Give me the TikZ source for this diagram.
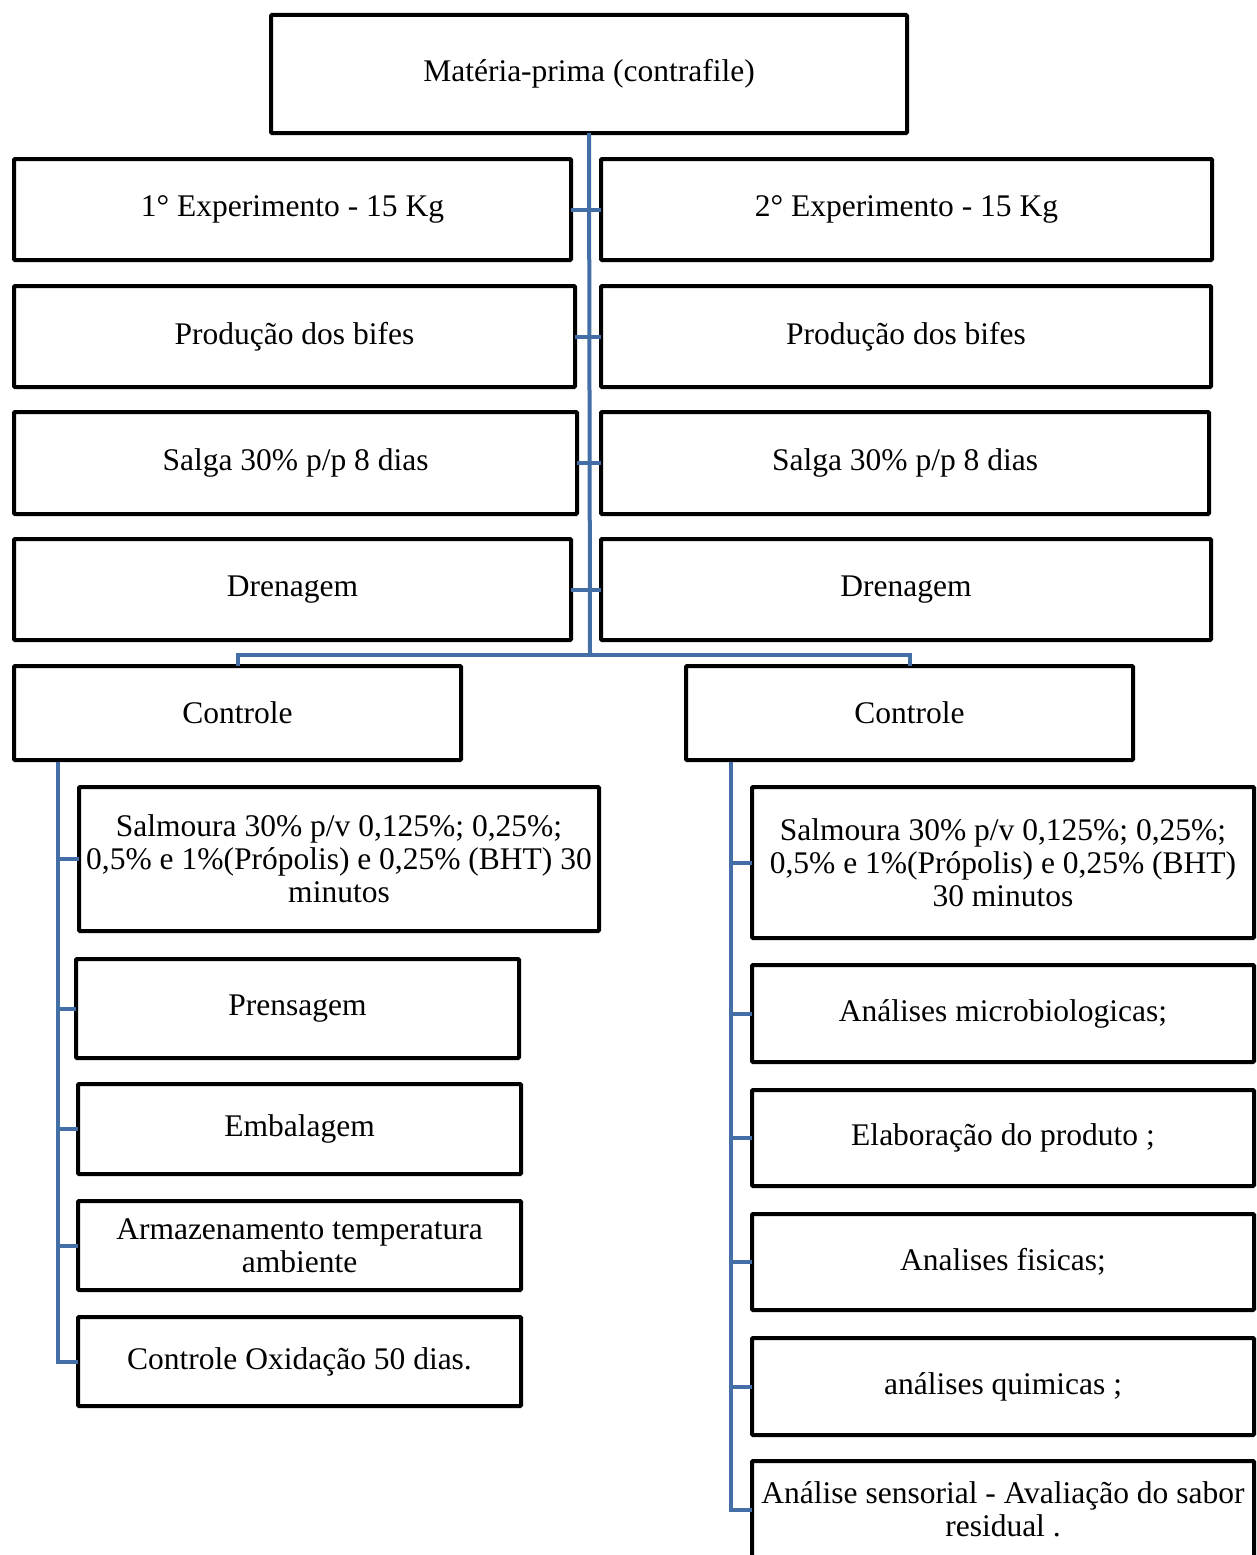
\documentclass[tikz,border=0pt]{standalone}
\usepackage{fontspec}
\setmainfont{Liberation Serif}
\definecolor{linkblue}{RGB}{68,110,166}
\tikzset{
  boxnode/.style={draw=black, line width=4pt, fill=white, inner sep=0pt, outer sep=0pt,
    align=center, font=\fontsize{31.5}{33}\selectfont, rounded corners=1pt},
  link/.style={draw=linkblue, line width=4pt}
}
% \mybox{name}{x1}{y1}{x2}{y2}{text}
\newcommand{\mybox}[6]{%
  \node[boxnode, minimum width={(#4-#2-4)*1pt}, minimum height={(#5-#3-4)*1pt}]
    (#1) at ({(#2+#4)/2},{(#3+#5)/2}) {#6};}
\begin{document}
\begin{tikzpicture}[x=1pt,y=-1pt]
\useasboundingbox[fill=white] (0,0) rectangle (1256,1555);
\coordinate (hub) at (590,655);
\coordinate (lt) at (58,762);
\coordinate (rt) at (731,762);
% boxes
\mybox{top}{269}{13}{909}{135}{Matéria-prima (contrafile)}
\mybox{r1L}{12}{157}{573}{262}{1° Experimento - 15 Kg}
\mybox{r1R}{599}{157}{1214}{262}{2° Experimento - 15 Kg}
\mybox{r2L}{12}{284}{577}{389}{Produção dos bifes}
\mybox{r2R}{599}{284}{1213}{389}{Produção dos bifes}
\mybox{r3L}{12}{410}{579}{516}{Salga 30\% p/p 8 dias}
\mybox{r3R}{599}{410}{1211}{516}{Salga 30\% p/p 8 dias}
\mybox{r4L}{12}{537}{573}{642}{Drenagem}
\mybox{r4R}{599}{537}{1213}{642}{Drenagem}
\mybox{ctrlL}{12}{664}{463}{762}{Controle}
\mybox{ctrlR}{684}{664}{1135}{762}{Controle}
\mybox{lc1}{77}{785}{601}{933}{Salmoura 30\% p/v 0,125\%; 0,25\%;\\0,5\% e 1\%(Própolis) e 0,25\% (BHT) 30\\minutos}
\mybox{lc2}{74}{957}{521}{1060}{Prensagem}
\mybox{lc3}{76}{1082}{523}{1176}{Embalagem}
\mybox{lc4}{76}{1199}{523}{1292}{Armazenamento temperatura\\ambiente}
\mybox{lc5}{76}{1315}{523}{1408}{Controle Oxidação 50 dias.}
\mybox{rc1}{750}{785}{1256}{940}{Salmoura 30\% p/v 0,125\%; 0,25\%;\\0,5\% e 1\%(Própolis) e 0,25\% (BHT)\\30 minutos}
\mybox{rc2}{750}{963}{1256}{1064}{Análises microbiologicas;}
\mybox{rc3}{750}{1088}{1256}{1188}{Elaboração do produto ;}
\mybox{rc4}{750}{1212}{1256}{1312}{Analises fisicas;}
\mybox{rc5}{750}{1336}{1256}{1437}{análises quimicas ;}
\mybox{rc6}{750}{1459}{1256}{1560}{Análise sensorial - Avaliação do sabor\\residual .}
% connectors
\draw[link] (top.south) -- (hub);
\draw[link] (r1L.east) -- (r1R.west);
\draw[link] (r2L.east) -- (r2R.west);
\draw[link] (r3L.east) -- (r3R.west);
\draw[link] (r4L.east) -- (r4R.west);
\draw[link] (ctrlL.north) |- (hub) -| (ctrlR.north);
\draw[link] (lt) |- (lc5.west);
\foreach \c in {lc1,lc2,lc3,lc4} \draw[link] (lt |- \c.west) -- (\c.west);
\draw[link] (rt) |- (rc6.west);
\foreach \c in {rc1,rc2,rc3,rc4,rc5} \draw[link] (rt |- \c.west) -- (\c.west);
\end{tikzpicture}
\end{document}
